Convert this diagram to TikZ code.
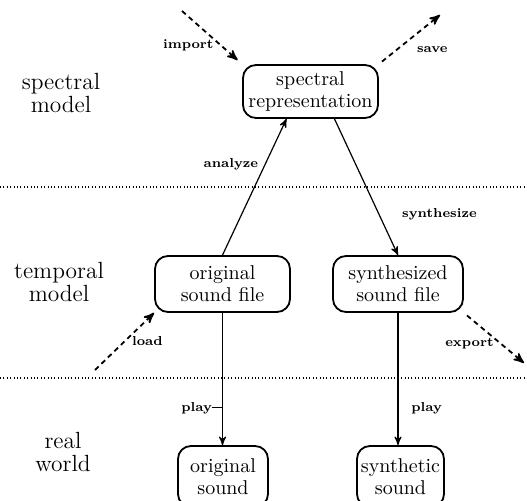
\documentclass[tikz,border=0pt]{standalone}
\usepackage{tikz}
\usetikzlibrary{arrows, positioning}
\tikzset{>=stealth',
box/.style={draw, line width=0.9pt, rounded corners=6.5pt, align=center,
  inner sep=2pt, font=\fontsize{10}{11}\selectfont},
lbl/.style={font=\fontsize{6.5}{7}\selectfont\bfseries},
side/.style={align=center, font=\fontsize{11.7}{11.5}\selectfont},
ext/.style={->, line width=0.9pt, dash pattern=on 2.5pt off 2pt},
op/.style={->, line width=0.6pt},
sep/.style={line width=0.7pt, dash pattern=on 0.5pt off 1.2pt}}

\begin{document}
\begin{tikzpicture}[x=0.5pt,y=-0.5pt]
\useasboundingbox (0,0) rectangle (527,501);
% layers
\node[side] (SMod) at (61,93) {spectral\\model};
\node[side] (TMod) at (59,282) {temporal\\model};
\node[side] (RWor) at (63,452) {real\\world};
\draw[sep] (0,187) -- (527,187);
\draw[sep] (0,378) -- (527,378);
% data
\node[box, minimum width=67.5pt, minimum height=26.5pt] (SR) at (310.5,91.5) {spectral\\representation};
\node[box, minimum width=67.5pt, minimum height=28pt] (OF) at (222.5,284) {original\\sound file};
\node[box, minimum width=65pt, minimum height=28pt] (SF) at (398,284) {synthesized\\sound file};
\node[box, minimum width=45pt, minimum height=30.5pt] (OS) at (223,476.5) {original\\sound};
\node[box, minimum width=43.5pt, minimum height=30.5pt] (SS) at (400.5,476.5) {synthetic\\sound};
\coordinate (imp) at (182,11);
\coordinate (sav) at (440,15);
\coordinate (lod) at (95,370);
\coordinate (exp) at (524,363);
\draw
(imp) edge[ext, shorten >=3pt] node[lbl, left, pos=0.65]{import} (SR.north west)
(SR.north east) edge[ext, shorten <=2pt] node[lbl, below right, pos=0.5]{save} (sav)
(lod) edge[ext] node[lbl, right, pos=0.5]{load} (OF.south west)
(SF.south east) edge[ext, shorten <=2pt] node[lbl, left, pos=0.62]{export} (exp)
(OF.north) edge[op] node[lbl, left, pos=0.67]{analyze} ([xshift=-12pt]SR.south)
([xshift=12pt]SR.south) edge[op] node[lbl, right=8pt, pos=0.7]{synthesize} (SF.north)
(OF.south) edge[op] node[lbl, anchor=east, inner sep=0pt, pos=0.72]{play\rule[0.55ex]{5pt}{0.5pt}} (OF.south |- OS.north)
(SF.south) edge[op] node[lbl, right=3pt, pos=0.72]{play} (SF.south |- SS.north)
;
\end{tikzpicture}
\end{document}
